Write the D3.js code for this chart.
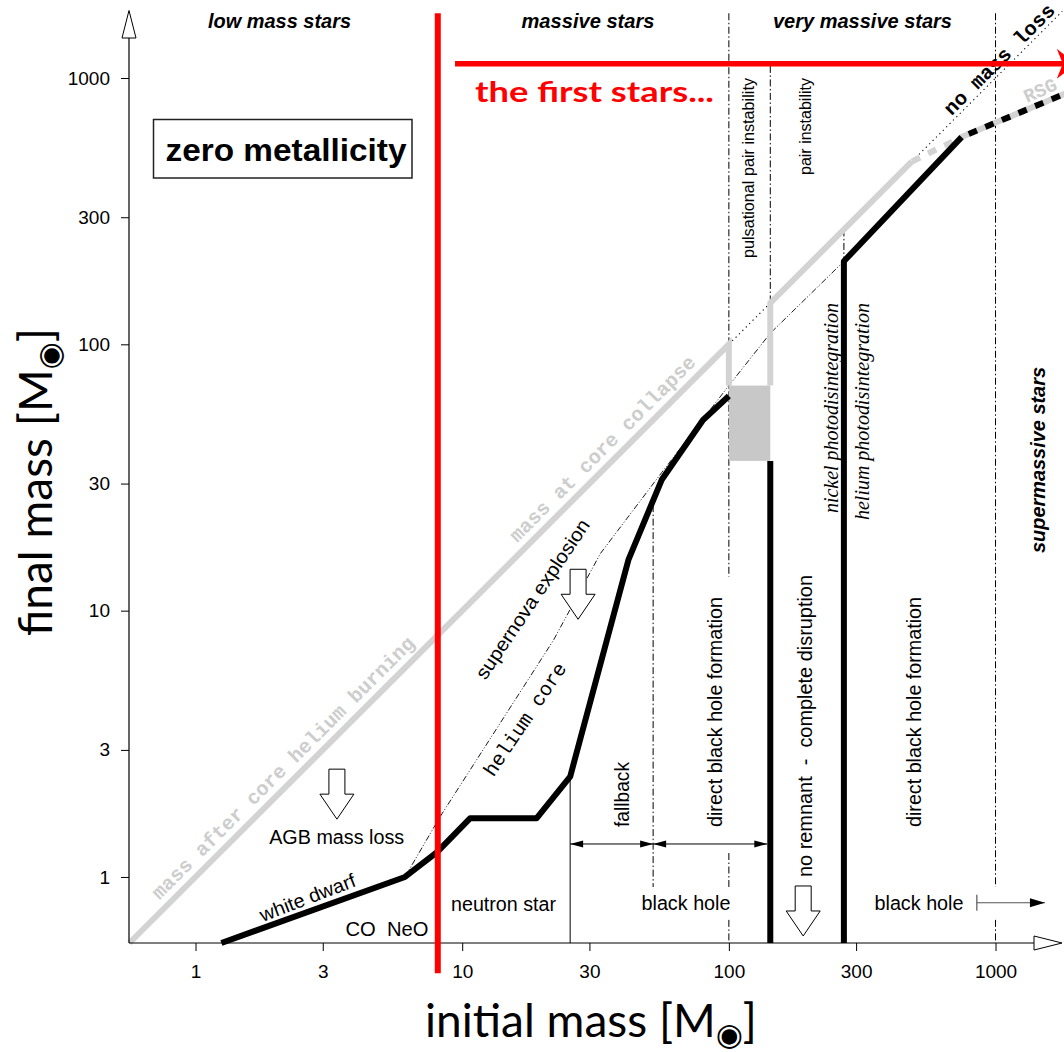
<!DOCTYPE html>
<html>
<head>
<meta charset="utf-8">
<title>Final mass versus initial mass of zero-metallicity stars</title>
<script src="https://cdn.jsdelivr.net/npm/d3@7/dist/d3.min.js"></script>
<style>
  html, body { margin: 0; padding: 0; background: #fff; }
  svg { display: block; }
</style>
</head>
<body>
<svg id="chart" width="1064" height="1052"></svg>
<script>
// ---------------- data (all masses in solar masses) ----------------
const xTicks = [1, 3, 10, 30, 100, 300, 1000];
const yTicks = [1, 3, 10, 30, 100, 300, 1000];
const initialRange = [0.563, 1800];
const finalRange = [0.565, 1780];

// remnant mass: white dwarfs, neutron stars, fallback black holes
const remnantInitial = [1.25, 6.1, 8.05, 10.7, 19, 25.4, 42, 56, 80, 100];
const remnantFinal   = [0.565, 1.0, 1.24, 1.66, 1.66, 2.38, 15.5, 31, 52, 64];
// lower edge of the pair-instability gap
const gapEdgeInitial = [143, 143];
const gapEdgeFinal   = [0.565, 36.5];
// direct black holes above the gap
const directBhInitial = [270, 270, 746];
const directBhFinal   = [0.565, 205, 600];
const directBhExtInitial = [746, 1900];
const directBhExtFinal   = [600, 890];

// stellar mass at core collapse
const collapseLowInitial  = [0.565, 100, 100];
const collapseLowFinal    = [0.565, 100, 70];
const collapseHighInitial = [143, 143, 486];
const collapseHighFinal   = [70, 143, 486];
const collapseExtInitial  = [486, 746, 1900];
const collapseExtFinal    = [486, 600, 890];
// mass lost in pulsational pair-instability
const pulseBandInitial = [100, 143];
const pulseBandFinal   = [36.5, 70];

// helium core mass
const heliumInitial = [6.1, 8.25, 22, 33, 56, 100, 143, 270];
const heliumFinal   = [1.0, 1.68, 7.75, 16.4, 33, 70, 110, 205];

// no mass loss: final mass equals initial mass
const noLossInitial = [100, 1780];

// dash-dotted regime boundaries
const guideInitial = [100, 100, 100, 52, 143, 270, 1000, 1000];
const guideUpper   = [1750, 1.23, 0.69, 24.9, 1110, 270, 1750, 0.69];
const guideLower   = [13.4, 0.917, 0.565, 0.917, 143, 205, 0.917, 0.565];

// fallback / direct black hole formation ranges
const bhRangeInitial = [25.4, 52, 143];
const bhRangeLevel = 1.33;
// black holes beyond the direct-collapse limit
const bhBeyondInitial = [851, 1532];
const bhBeyondLevel = 0.8;

// open arrows: [initial mass of centre, final mass of top]
const arrowAGB = [3.39, 2.54];
const arrowSN = [27.2, 14.3];
const arrowPISN = [190, 0.925];

// the first stars
const firstStarsLower = 8.1;
const firstStarsSpan = [0.435, 1750];
const firstStarsBand = [9.4, 2000];
const firstStarsLevel = 1130;

// ---------------- drawing ----------------
const SANS = '"Liberation Sans", Arial, Helvetica, sans-serif';
const MONO = '"Liberation Mono", "Courier New", monospace';
const SERIF = '"Liberation Serif", "DejaVu Serif", serif';
const TITLE = 'Lato, "Open Sans", sans-serif';

const svg = d3.select("#chart");
const x = d3.scaleLog().domain(initialRange).range([129, 1063.6]);
const y = d3.scaleLog().domain(finalRange).range([943, 11.3]);
const zip = (a, b) => a.map((v, i) => [v, b[i]]);
const line = d3.line().x(d => x(d[0])).y(d => y(d[1]));

const gGuides = svg.append("g");
const gGrey = svg.append("g");
const gBlack = svg.append("g");
const gText = svg.append("g").attr("font-family", SANS).attr("fill", "#000");
const gAxes = svg.append("g");
const gRed = svg.append("g");

// dash-dotted regime boundaries
guideInitial.forEach((m, i) => {
  gGuides.append("line")
    .attr("x1", x(m)).attr("x2", x(m))
    .attr("y1", y(guideUpper[i])).attr("y2", y(guideLower[i]))
    .attr("stroke", "#000").attr("stroke-width", 1)
    .attr("stroke-dasharray", "7,2.5,1.5,2.5");
});

// helium core
gGuides.append("path")
  .attr("d", line(zip(heliumInitial, heliumFinal)))
  .attr("fill", "none").attr("stroke", "#000").attr("stroke-width", 0.9)
  .attr("stroke-dasharray", "6,2,1,2,1,2");

// no mass loss
gGuides.append("path")
  .attr("d", line(noLossInitial.map(m => [m, m])))
  .attr("fill", "none").attr("stroke", "#000").attr("stroke-width", 1.1)
  .attr("stroke-dasharray", "1.2,3.6");

// pulsational pair-instability band
gGrey.append("rect")
  .attr("x", x(pulseBandInitial[0])).attr("width", x(pulseBandInitial[1]) - x(pulseBandInitial[0]))
  .attr("y", y(pulseBandFinal[1])).attr("height", y(pulseBandFinal[0]) - y(pulseBandFinal[1]))
  .attr("fill", "#c8c8c8");

// mass at core collapse
const GREY = "#d3d3d3";
[zip(collapseLowInitial, collapseLowFinal), zip(collapseHighInitial, collapseHighFinal)].forEach(pts => {
  gGrey.append("path").attr("d", line(pts))
    .attr("fill", "none").attr("stroke", GREY).attr("stroke-width", 6)
    .attr("stroke-linejoin", "miter");
});
gGrey.append("path").attr("d", line(zip(collapseExtInitial, collapseExtFinal)))
  .attr("fill", "none").attr("stroke", GREY).attr("stroke-width", 6)
  .attr("stroke-dasharray", "9,9");

// grey labels along the diagonal
const diagAngle = Math.atan2(y(1000) - y(1), x(1000) - x(1));
const diagDeg = diagAngle * 180 / Math.PI;
function diagLabel(g, text, m, offset, opts) {
  const px = x(m) + offset * Math.sin(diagAngle);
  const py = y(m) - offset * Math.cos(diagAngle);
  const t = g.append("text")
    .attr("transform", `translate(${px},${py}) rotate(${diagDeg})`)
    .attr("text-anchor", "middle").attr("dy", "0.35em")
    .attr("font-family", MONO).attr("font-weight", "bold")
    .attr("font-size", 20).attr("fill", opts.fill)
    .text(text);
  if (opts.len) t.attr("textLength", opts.len).attr("lengthAdjust", "spacingAndGlyphs");
  return t;
}
diagLabel(gGrey, "mass after core helium burning", 2.34, 16, { fill: "#cdcdcd", len: 362 });
diagLabel(gGrey, "mass at core collapse", 36.9, 16, { fill: "#cdcdcd", len: 254 });
gGrey.append("text")
  .attr("transform", `translate(1040,90) rotate(-24)`)
  .attr("text-anchor", "middle").attr("dy", "0.35em")
  .attr("font-family", MONO).attr("font-weight", "bold").attr("font-size", 19)
  .attr("fill", "#cdcdcd").text("RSG");

// remnant masses
const BLACK_W = 6;
[zip(remnantInitial, remnantFinal), zip(gapEdgeInitial, gapEdgeFinal), zip(directBhInitial, directBhFinal)].forEach(pts => {
  gBlack.append("path").attr("d", line(pts))
    .attr("fill", "none").attr("stroke", "#000").attr("stroke-width", BLACK_W)
    .attr("stroke-linejoin", "round");
});
// dashed continuation, dashes placed in the gaps of the grey dashes
const tmp = svg.append("path").attr("d", line(zip(collapseExtInitial.slice(0, 2), collapseExtFinal.slice(0, 2))));
const lead = tmp.node().getTotalLength();
tmp.remove();
gBlack.append("path").attr("d", line(zip(directBhExtInitial, directBhExtFinal)))
  .attr("fill", "none").attr("stroke", "#000").attr("stroke-width", BLACK_W)
  .attr("stroke-dasharray", "9,9").attr("stroke-dashoffset", (lead + 9) % 18);

// thin marker at the onset of fallback
gBlack.append("line")
  .attr("x1", x(bhRangeInitial[0])).attr("x2", x(bhRangeInitial[0]))
  .attr("y1", y(remnantFinal[5])).attr("y2", y(finalRange[0]))
  .attr("stroke", "#000").attr("stroke-width", 1);

// range arrows (fallback | direct black hole formation)
function head(g, tipX, tipY, dir, len, half, fill) {
  g.append("path")
    .attr("d", `M${tipX},${tipY} L${tipX - dir * len},${tipY - half} L${tipX - dir * len},${tipY + half} Z`)
    .attr("fill", fill);
}
const ry = y(bhRangeLevel);
const rEnd = x(bhRangeInitial[2]) - BLACK_W / 2;
[[x(bhRangeInitial[0]), x(bhRangeInitial[1])], [x(bhRangeInitial[1]), rEnd]].forEach(([a, b]) => {
  gBlack.append("line").attr("x1", a).attr("x2", b).attr("y1", ry).attr("y2", ry)
    .attr("stroke", "#000").attr("stroke-width", 1);
  head(gBlack, a, ry, -1, 13, 3.5, "#000");
  head(gBlack, b, ry, 1, 13, 3.5, "#000");
});

// black holes beyond
const by = y(bhBeyondLevel);
gBlack.append("line").attr("x1", x(bhBeyondInitial[0])).attr("x2", x(bhBeyondInitial[1]))
  .attr("y1", by).attr("y2", by).attr("stroke", "#555").attr("stroke-width", 1.2);
gBlack.append("line").attr("x1", x(bhBeyondInitial[0])).attr("x2", x(bhBeyondInitial[0]))
  .attr("y1", by - 8).attr("y2", by + 8).attr("stroke", "#555").attr("stroke-width", 1.2);
head(gBlack, x(bhBeyondInitial[1]), by, 1, 15, 4.5, "#000");

// open block arrows
function blockArrow(g, [m, top]) {
  const cx = x(m), t = y(top);
  const sw = 8, hw = 17, sl = 25, hl = 25;
  g.append("path")
    .attr("d", `M${cx - sw},${t} L${cx + sw},${t} L${cx + sw},${t + sl} L${cx + hw},${t + sl} L${cx},${t + sl + hl} L${cx - hw},${t + sl} L${cx - sw},${t + sl} Z`)
    .attr("fill", "#fff").attr("stroke", "#000").attr("stroke-width", 1);
}
[arrowAGB, arrowSN, arrowPISN].forEach(a => blockArrow(gBlack, a));

// ---------------- text labels ----------------
function label(text, px, py, opts = {}) {
  const t = gText.append("text")
    .attr("transform", `translate(${px},${py})` + (opts.rotate ? ` rotate(${opts.rotate})` : ""))
    .attr("text-anchor", opts.anchor || "middle")
    .attr("font-size", opts.size || 19.5)
    .style("white-space", "pre")
    .text(text);
  if (opts.dy) t.attr("dy", opts.dy);
  if (opts.family) t.attr("font-family", opts.family);
  if (opts.weight) t.attr("font-weight", opts.weight);
  if (opts.style) t.attr("font-style", opts.style);
  if (opts.fill) t.attr("fill", opts.fill);
  if (opts.len) t.attr("textLength", opts.len).attr("lengthAdjust", "spacingAndGlyphs");
  return t;
}

// regime headings
label("low mass stars", 279.5, 27.5, { weight: "bold", style: "italic", size: 19.5, len: 143 });
label("massive stars", 588, 27.5, { weight: "bold", style: "italic", size: 19.5, len: 133 });
label("very massive stars", 862.5, 27.5, { weight: "bold", style: "italic", size: 19.5, len: 179 });
label("supermassive stars", 1045, 553, { weight: "bold", style: "italic", size: 19.5, rotate: -90, anchor: "start", len: 186 });

// metallicity box
gText.append("rect").attr("x", 153.5).attr("y", 119.5).attr("width", 258.5).attr("height", 58.5)
  .attr("fill", "#fff").attr("stroke", "#222").attr("stroke-width", 1.5);
label("zero metallicity", 286, 161, { weight: "bold", size: 31, len: 241 });

// vertical annotations
label("pulsational pair instability", 753.5, 258, { rotate: -90, anchor: "start", size: 16.5, len: 180 });
label("pair instability", 811, 175, { rotate: -90, anchor: "start", size: 16.5, len: 97 });
label("nickel photodisintegration", 838, 513, { rotate: -90, anchor: "start", family: SERIF, style: "italic", size: 20, len: 210 });
label("helium photodisintegration", 869, 520, { rotate: -90, anchor: "start", family: SERIF, style: "italic", size: 20, len: 217 });
label("direct black hole formation", 721.5, 827, { rotate: -90, anchor: "start", len: 230 });
label("direct black hole formation", 920.5, 827, { rotate: -90, anchor: "start", len: 230 });
label("no remnant  -  complete disruption", 812, 877, { rotate: -90, anchor: "start", len: 302 });
label("fallback", 629, 827, { rotate: -90, anchor: "start", len: 65 });

// slanted annotations
label("supernova explosion", 532.5, 599, { rotate: -56, dy: "0.35em", len: 188 });
label("helium core", 524.5, 719, { rotate: -56, dy: "0.35em", family: MONO, size: 20, len: 132 });
label("white dwarf", 307.5, 897.5, { rotate: -21, dy: "0.35em", len: 101 });
diagLabel(gText, "no mass loss", 1102, 11, { fill: "#000", len: 148 });

// horizontal annotations
label("AGB mass loss", 336.7, 844, { len: 135 });
label("CO  NeO", 387, 936, { len: 83 });
label("neutron star", 503.5, 911, { len: 105 });
label("black hole", 686, 910, { len: 89 });
label("black hole", 919, 910, { len: 89 });

// ---------------- axes ----------------
const axisY0 = y(finalRange[0]);
const axisX0 = x(initialRange[0]);
const gx = gAxes.append("g").attr("transform", `translate(0,${axisY0})`)
  .call(d3.axisBottom(x).tickValues(xTicks).tickFormat(d3.format("d")).tickSize(8).tickPadding(13.5));
const gy = gAxes.append("g").attr("transform", `translate(${axisX0},0)`)
  .call(d3.axisLeft(y).tickValues(yTicks).tickFormat(d3.format("d")).tickSize(8).tickPadding(11));
[gx, gy].forEach(g => {
  g.select(".domain").remove();
  g.selectAll(".tick line").attr("stroke", "#000").attr("stroke-width", 1);
  g.selectAll(".tick text").attr("font-family", SANS).attr("font-size", 19).attr("fill", "#000");
});
// axis lines with open arrowheads
gAxes.append("path")
  .attr("d", `M${axisX0},${axisY0} H1034 M${axisX0},${axisY0} V38`)
  .attr("stroke", "#000").attr("stroke-width", 1.2).attr("fill", "none");
gAxes.append("path")
  .attr("d", `M1034,${axisY0 - 7} L1062,${axisY0} L1034,${axisY0 + 7} Z`)
  .attr("fill", "#fff").attr("stroke", "#000").attr("stroke-width", 1);
gAxes.append("path")
  .attr("d", `M${axisX0 - 7},38 L${axisX0},10.5 L${axisX0 + 7},38 Z`)
  .attr("fill", "#fff").attr("stroke", "#000").attr("stroke-width", 1);

// axis titles
function axisTitle(tx, ty, rot, words) {
  const t = gAxes.append("text")
    .attr("transform", `translate(${tx},${ty})` + (rot ? ` rotate(${rot})` : ""))
    .attr("font-family", TITLE).attr("font-size", 46).attr("fill", "#000");
  t.append("tspan").text(words + " [M");
  t.append("tspan").attr("font-family", '"DejaVu Sans", sans-serif').attr("font-size", 31).attr("dy", 7.5).text("\u25C9");
  t.append("tspan").attr("dy", -7.5).text("]");
  return t;
}
axisTitle(425, 1037, 0, "initial mass");
axisTitle(52, 636, -90, "final mass");

// ---------------- the first stars ----------------
const RED = "#ff0000";
gRed.append("line")
  .attr("x1", x(firstStarsLower)).attr("x2", x(firstStarsLower))
  .attr("y1", y(firstStarsSpan[0])).attr("y2", y(firstStarsSpan[1]))
  .attr("stroke", RED).attr("stroke-width", 6);
const fy = y(firstStarsLevel);
const fx1 = x(firstStarsBand[1]);
gRed.append("line")
  .attr("x1", x(firstStarsBand[0])).attr("x2", fx1 - 10)
  .attr("y1", fy).attr("y2", fy)
  .attr("stroke", RED).attr("stroke-width", 5.5);
gRed.append("path")
  .attr("d", `M${fx1},${fy} L${fx1 - 19},${fy - 15} L${fx1 - 13},${fy} L${fx1 - 19},${fy + 15} Z`)
  .attr("fill", RED);
gRed.append("text")
  .attr("x", 475).attr("y", 102)
  .attr("font-family", TITLE).attr("font-weight", "bold").attr("font-size", 28)
  .attr("fill", RED).attr("textLength", 239).attr("lengthAdjust", "spacingAndGlyphs")
  .text("the first stars...");
</script>
</body>
</html>
